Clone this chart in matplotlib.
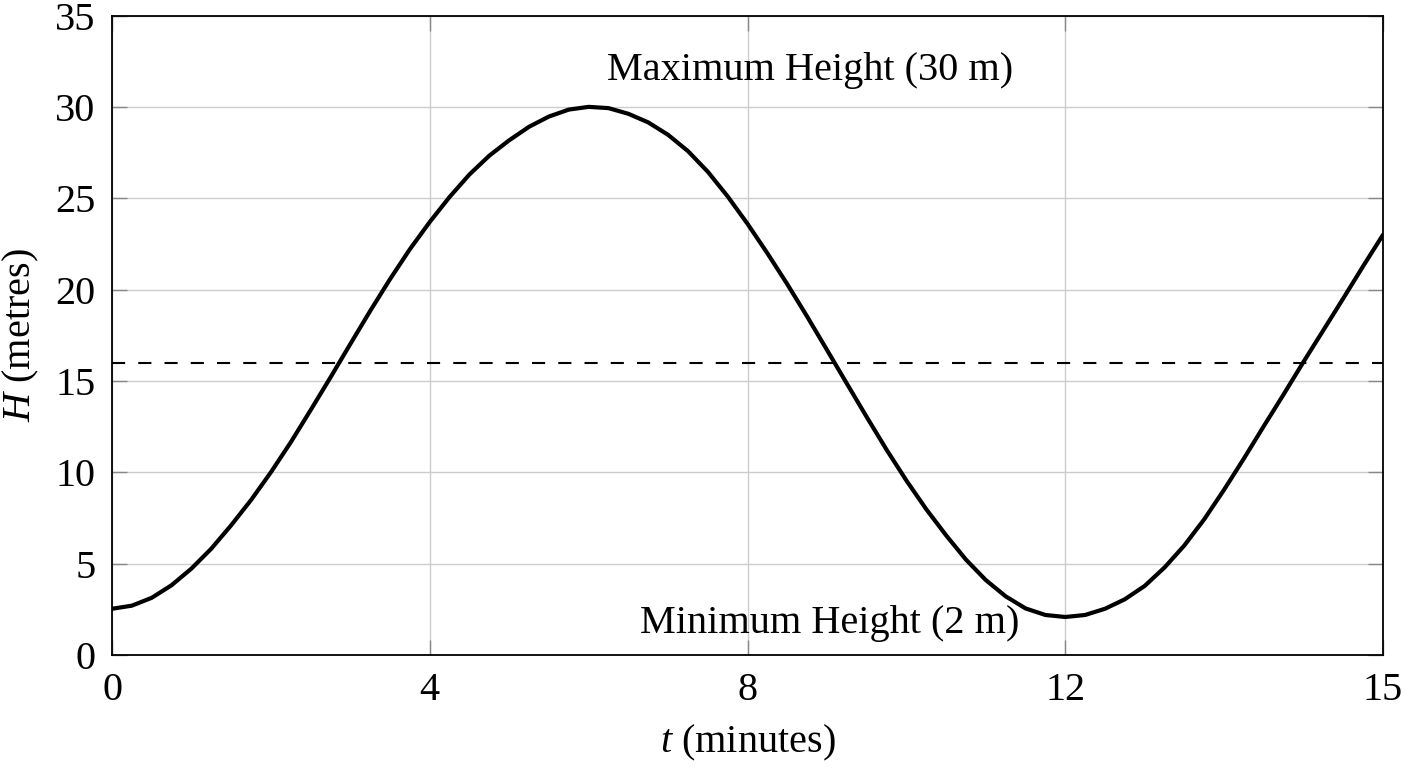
import matplotlib
matplotlib.use("Agg")
import matplotlib.pyplot as plt

t_vals = [0.0, 0.25, 0.5, 0.75, 1.0, 1.25, 1.5, 1.75, 2.0, 2.25, 2.5, 2.75,
          3.0, 3.25, 3.5, 3.75, 4.0, 4.25, 4.5, 4.75, 5.0, 5.25, 5.5, 5.75,
          6.0, 6.25, 6.5, 6.75, 7.0, 7.25, 7.5, 7.75, 8.0, 8.25, 8.5, 8.75,
          9.0, 9.25, 9.5, 9.75, 10.0, 10.25, 10.5, 10.75, 11.0, 11.25, 11.5, 11.75,
          12.0, 12.25, 12.5, 12.75, 13.0, 13.25, 13.5, 13.75, 14.0, 14.25, 14.5, 14.75,
          15.0, 15.25, 15.5, 15.75, 16.0]
h_vals = [2.53, 2.70, 3.13, 3.82, 4.73, 5.82, 7.10, 8.48, 10.00, 11.64, 13.40, 15.19,
          17.02, 18.83, 20.57, 22.21, 23.70, 25.07, 26.30, 27.33, 28.17, 28.91, 29.47, 29.85,
          30.00, 29.93, 29.62, 29.15, 28.47, 27.58, 26.45, 25.10, 23.60, 21.99, 20.30, 18.53,
          16.70, 14.86, 13.03, 11.24, 9.55, 7.98, 6.55, 5.22, 4.10, 3.21, 2.55, 2.19,
          2.08, 2.19, 2.53, 3.05, 3.78, 4.79, 6.00, 7.43, 9.05, 10.76, 12.53, 14.27,
          16.05, 17.78, 19.52, 21.28, 23.00]
h_media = 16
xtick_pos = [0, 4, 8, 12, 16]
xtick_lab = ['0', '4', '8', '12', '15']
ytick_pos = [0, 5, 10, 15, 20, 25, 30, 35]
txt_max = 'Maximum Height (30 m)'
txt_min = 'Minimum Height (2 m)'

plt.rcParams['font.family'] = ['Liberation Serif', 'DejaVu Serif']
plt.rcParams['mathtext.fontset'] = 'custom'
plt.rcParams['mathtext.rm'] = 'Liberation Serif'
plt.rcParams['mathtext.it'] = 'Liberation Serif:italic'
fs = 29

fig = plt.figure(figsize=(14.08, 7.68), dpi=100)
ax = fig.add_axes([112/1408, 113/768, 1271/1408, 639.5/768])

ax.plot(t_vals, h_vals, color='black', lw=3.0, solid_capstyle='round', solid_joinstyle='round', zorder=3)
ax.axhline(h_media, color='black', lw=1.5, dashes=(6.3, 6.3), zorder=2)

ax.set_xlim(0, 16)
ax.set_ylim(0, 35)
ax.set_xticks(xtick_pos)
ax.set_xticklabels(xtick_lab)
ax.set_yticks(ytick_pos)
ax.grid(True, color='#cccccc', lw=1.0, zorder=0)
ax.tick_params(direction='in', length=11, width=1, color='#888888',
               top=True, right=True, labelsize=fs, pad=12)
for s in ax.spines.values():
    s.set_linewidth(1.3)
    s.set_color('black')

ax.text(8.79, 31.47, txt_max, ha='center', va='baseline', fontsize=fs)
ax.text(9.04, 1.22, txt_min, ha='center', va='baseline', fontsize=fs)

ax.set_xlabel(r'$t$ (minutes)', fontsize=fs, labelpad=10)
ax.set_ylabel(r'$H$ (metres)', fontsize=fs, labelpad=10)

fig.savefig('out.png', dpi=100)
